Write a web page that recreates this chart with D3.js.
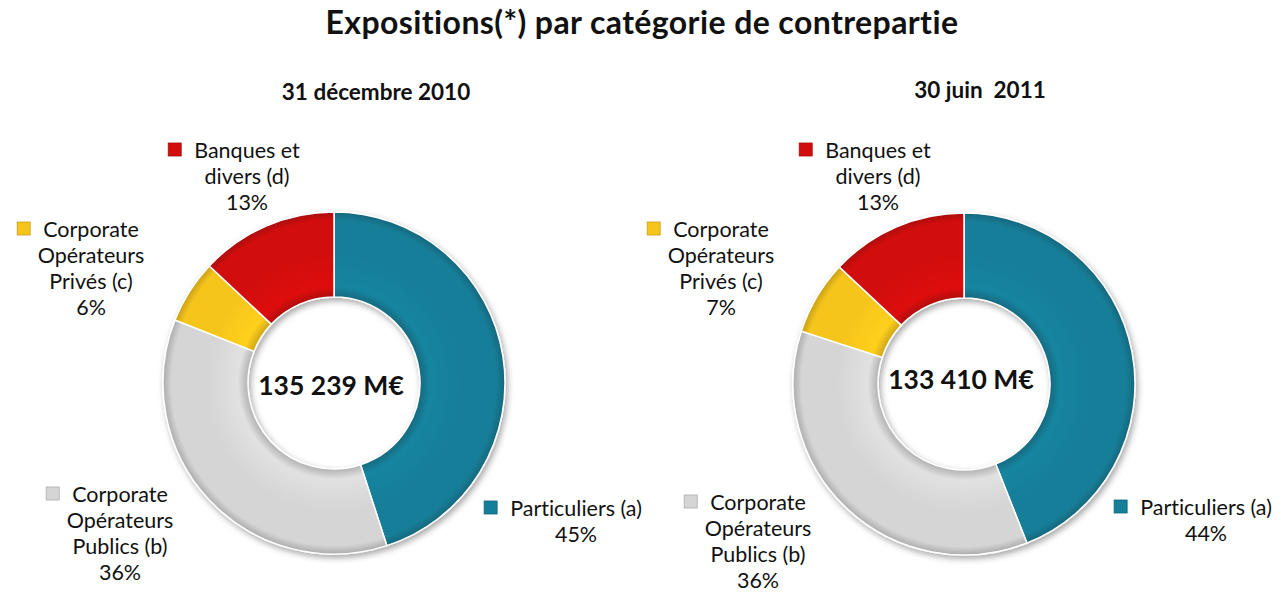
<!DOCTYPE html>
<html>
<head>
<meta charset="utf-8">
<script src="https://cdn.jsdelivr.net/npm/d3@7"></script>
<style>
  body { margin: 0; background: #fff; }
  text { font-family: Lato, "Open Sans", sans-serif; fill: #111; font-variant-ligatures: none; }
</style>
</head>
<body>
<svg id="chart" width="1287" height="598"></svg>
<script>
// data
const categories = ["Particuliers (a)", "Corporate Opérateurs Publics (b)", "Corporate Opérateurs Privés (c)", "Banques et divers (d)"];
const labelLines = [
    ["Particuliers (a)"],
    ["Corporate", "Opérateurs", "Publics (b)"],
    ["Corporate", "Opérateurs", "Privés (c)"],
    ["Banques et", "divers (d)"]
];
const colors = ["#157e98", "#d5d5d5", "#f6c51c", "#d20d0d"];
const dec2010 = [45, 36, 6, 13];
const jun2011 = [44, 36, 7, 13];
const periods = ["31 décembre 2010", "30 juin  2011"];
const totals = ["135 239 M€", "133 410 M€"];
const mainTitle = "Expositions(*) par catégorie de contrepartie";

let svg = d3.select("#chart");
let defs = svg.append("defs");

let shadow = defs.append("filter").attr("id", "shadow")
    .attr("x", "-20%").attr("y", "-20%").attr("width", "140%").attr("height", "140%");
shadow.append("feDropShadow")
    .attr("dx", 2).attr("dy", 3).attr("stdDeviation", 3)
    .attr("flood-color", "#000").attr("flood-opacity", 0.35);

svg.append("text")
    .attr("x", 642)
    .attr("y", 34)
    .attr("text-anchor", "middle")
    .attr("font-size", "32px")
    .attr("font-weight", "bold")
    .attr("letter-spacing", "0.4px")
    .text(mainTitle);

// layout of each donut (center, radii, title and label anchors)
let charts = [
    { values: dec2010, cx: 334, cy: 383, titleX: 376, titleY: 100, totalY: 395,
      labels: [[242, 133], [-214, 119], [-243, -146], [-87, -225]] },
    { values: jun2011, cx: 964, cy: 384, titleX: 980, titleY: 98, totalY: 389,
      labels: [[242, 131], [-206, 126], [-243, -147], [-86, -226]] }
];

let outerR = 171, innerR = 86, lineH = 26;

let pie = d3.pie().sort(null).value(function (d) { return d; });
let arc = d3.arc().innerRadius(innerR).outerRadius(outerR);

charts.forEach(function (c, ci) {
    let g = svg.append("g").attr("transform", "translate(" + c.cx + "," + c.cy + ")");

    svg.append("text")
        .attr("x", c.titleX)
        .attr("y", c.titleY)
        .attr("text-anchor", "middle")
        .attr("font-size", "22.5px")
        .attr("font-weight", "bold")
        .style("white-space", "pre")
        .text(periods[ci]);

    // bevel-ish shading per colour
    colors.forEach(function (col, i) {
        let grad = defs.append("radialGradient")
            .attr("id", "grad" + ci + "_" + i)
            .attr("gradientUnits", "userSpaceOnUse")
            .attr("cx", 0).attr("cy", 0).attr("r", outerR);
        let k = innerR / outerR;
        grad.append("stop").attr("offset", k).attr("stop-color", d3.color(col).darker(0.5));
        grad.append("stop").attr("offset", k + 0.06).attr("stop-color", d3.color(col).brighter(0.15));
        grad.append("stop").attr("offset", 0.75).attr("stop-color", col);
        grad.append("stop").attr("offset", 0.95).attr("stop-color", col);
        grad.append("stop").attr("offset", 1).attr("stop-color", d3.color(col).darker(0.6));
    });

    g.append("g")
        .attr("filter", "url(#shadow)")
        .selectAll("path")
        .data(pie(c.values))
        .enter().append("path")
        .attr("d", arc)
        .attr("fill", function (d, i) { return "url(#grad" + ci + "_" + i + ")"; })
        .attr("stroke", "#fff")
        .attr("stroke-width", 1.5);

    g.append("text")
        .attr("x", -3)
        .attr("y", c.totalY - c.cy)
        .attr("text-anchor", "middle")
        .attr("font-size", "26.5px")
        .attr("font-weight", "bold")
        .text(totals[ci]);

    // labels with small legend squares
    c.values.forEach(function (v, i) {
        let lines = labelLines[i].concat([v + "%"]);
        let lx = c.labels[i][0], ly = c.labels[i][1];
        let t = g.append("text")
            .attr("text-anchor", "middle")
            .attr("font-size", "21.5px");
        lines.forEach(function (s, j) {
            t.append("tspan")
                .attr("x", lx)
                .attr("y", ly + j * lineH)
                .text(s);
        });
        let first = t.select("tspan").node().getComputedTextLength();
        g.append("rect")
            .attr("x", lx - first / 2 - 26)
            .attr("y", ly - 15)
            .attr("width", 13)
            .attr("height", 13)
            .attr("fill", colors[i])
            .attr("stroke", d3.color(colors[i]).darker(0.6))
            .attr("stroke-width", 0.8);
    });
});
</script>
</body>
</html>
